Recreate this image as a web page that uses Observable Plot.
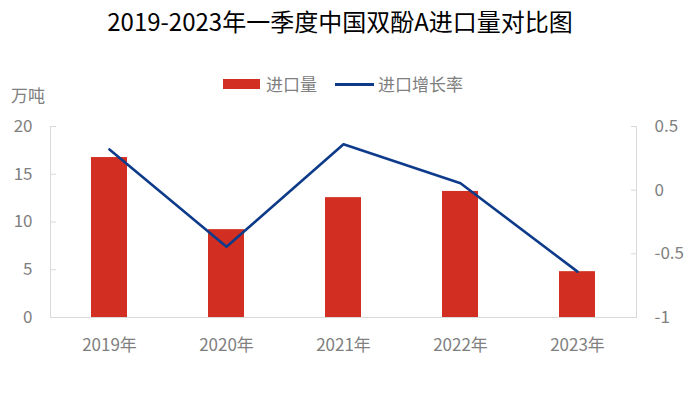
<!DOCTYPE html>
<html>
<head>
<meta charset="utf-8">
<script src="https://cdn.jsdelivr.net/npm/d3@7"></script>
<script src="https://cdn.jsdelivr.net/npm/@observablehq/plot@0.6"></script>
<style>
  html, body { margin: 0; padding: 0; background: #fff; }
  #wrap { position: relative; width: 700px; height: 420px; font-family: "Noto Sans CJK SC", "Noto Sans", sans-serif; }
  #title { position: absolute; left: 0; top: 4px; width: 680px; text-align: center; font-size: 24px; line-height: 34px; color: #000; }
  #legend { position: absolute; left: 0; top: 71px; width: 686px; display: flex; justify-content: center; align-items: center; font-size: 17px; color: #808080; line-height: 26px; }
  .sw-bar { display: inline-block; width: 37px; height: 10px; background: #d22f22; margin-right: 6px; }
  .sw-line { display: inline-block; width: 39px; height: 3px; background: #0d3b8a; margin-left: 18px; margin-right: 4px; }
  #ylabel { position: absolute; left: 11px; top: 82px; font-size: 17px; color: #808080; line-height: 26px; }
  #chart { position: absolute; left: 0; top: 0; }
</style>
</head>
<body>
<div id="wrap">
  <div id="chart"></div>
  <div id="title">2019-2023年一季度中国双酚A进口量对比图</div>
  <div id="legend"><span class="sw-bar"></span><span>进口量</span><span class="sw-line"></span><span>进口增长率</span></div>
  <div id="ylabel">万吨</div>
</div>
<script>
const years = ["2019年", "2020年", "2021年", "2022年", "2023年"];
const imports = [16.75, 9.2, 12.55, 13.2, 4.8];
const growth = [0.32, -0.445, 0.36, 0.055, -0.64];
const leftTicks = [0, 5, 10, 15, 20];
const rightTicks = [-1, -0.5, 0, 0.5];

// secondary axis mapping: rate domain [-1, 0.5] -> left domain [0, 20]
const toLeft = r => (r + 1) * 20 / 1.5;
const fromLeft = v => Math.round((v * 1.5 / 20 - 1) * 10) / 10;

const data = years.map((y, i) => ({year: y, imports: imports[i], growth: growth[i]}));
const gray = "#808080";
const axisColor = "#d9d9d9";

const plot = Plot.plot({
  width: 700,
  height: 420,
  marginLeft: 50,
  marginRight: 64,
  marginTop: 126,
  marginBottom: 103,
  style: {fontFamily: "'Noto Sans CJK SC', 'Noto Sans', sans-serif", fontSize: "17px", color: gray, background: "transparent"},
  x: {domain: years, paddingInner: 0.69, paddingOuter: 0.345, label: null},
  y: {domain: [0, 20], label: null},
  marks: [
    Plot.barY(data, {x: "year", y: "imports", fill: "#d22f22"}),
    Plot.ruleY([0], {stroke: axisColor, strokeWidth: 1}),
    Plot.frame({anchor: "left", stroke: axisColor}),
    Plot.frame({anchor: "right", stroke: axisColor}),
    Plot.lineY(data, {x: "year", y: d => toLeft(d.growth), stroke: "#0d3b8a", strokeWidth: 2.6}),
    Plot.axisX({tickSize: 0, tickPadding: 21, fill: gray, fontSize: 17}),
    Plot.axisY(leftTicks, {anchor: "left", tickSize: 0, tickPadding: 18, fill: gray, fontSize: 17, label: null}),
    Plot.axisY(leftTicks, {anchor: "left", tickSize: 6, dx: 6, tickFormat: () => "", stroke: axisColor, label: null}),
    Plot.axisY(rightTicks.map(toLeft), {anchor: "right", tickSize: 0, tickPadding: 18, tickFormat: v => String(fromLeft(v)), fill: gray, fontSize: 17, label: null}),
    Plot.axisY(rightTicks.map(toLeft), {anchor: "right", tickSize: 6, dx: -6, tickFormat: () => "", stroke: axisColor, label: null})
  ]
});
document.getElementById("chart").appendChild(plot);
</script>
</body>
</html>
